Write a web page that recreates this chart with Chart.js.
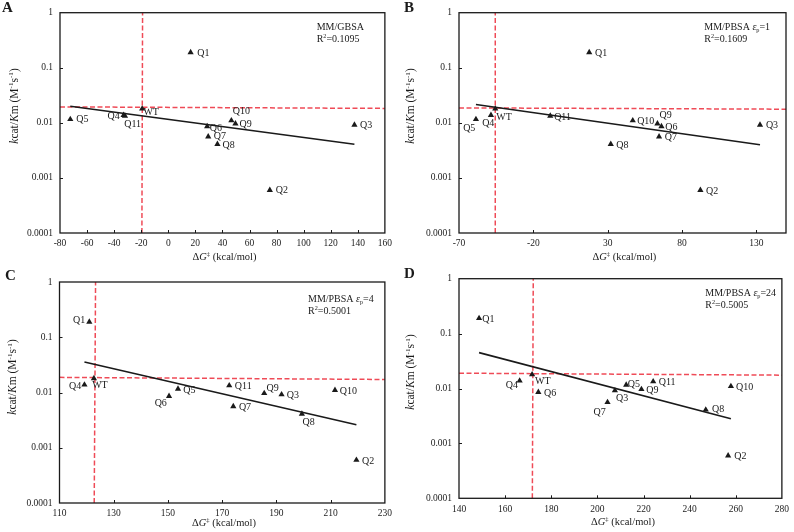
<!DOCTYPE html>
<html>
<head>
<meta charset="utf-8">
<script src="https://cdn.jsdelivr.net/npm/chart.js@4.4.1/dist/chart.umd.min.js"></script>
<style>
  html, body { margin: 0; padding: 0; background: #fff; }
  #wrap { position: relative; width: 794px; height: 532px; background: #fff; overflow: hidden; }
  canvas { position: absolute; }
</style>
</head>
<body>
<div id="wrap">
  <canvas id="cA" width="397" height="266" style="left:0;top:0"></canvas>
  <canvas id="cB" width="397" height="266" style="left:397px;top:0"></canvas>
  <canvas id="cC" width="397" height="266" style="left:0;top:266px"></canvas>
  <canvas id="cD" width="397" height="266" style="left:397px;top:266px"></canvas>
</div>
<script>
// ---------- DATA ----------
const mutants = ['WT','Q1','Q2','Q3','Q4','Q5','Q6','Q7','Q8','Q9','Q10','Q11'];
const kcatKm  = [0.018, 0.19, 0.0006, 0.0092, 0.0138, 0.0116, 0.0086, 0.0056, 0.0041, 0.0097, 0.011, 0.0134];

const dgA = [-19.3, 16.5, 75, 137.5, -33, -72.4, 28.7, 29.5, 36.3, 49.6, 46.6, -32];
const dgB = [-45.6, 17.6, 92.4, 132.5, -48.5, -58.6, 66.2, 64.6, 32.1, 63.5, 46.9, -8.6];
const dgC = [122.7, 121, 219.5, 191.9, 119.2, 153.7, 150.4, 174.1, 199.4, 185.5, 211.6, 172.6];
const dgD = [171.7, 148.7, 256.7, 207.6, 166.3, 212.5, 174.4, 204.4, 247, 219.1, 257.9, 224.2];

// trend line end points [x, kcat/Km]
const trendA = [[-72.4, 0.0200], [137.5, 0.0041]];
const trendB = [[-58.6, 0.0216], [132.5, 0.0040]];
const trendC = [[119.2, 0.0356], [219.5, 0.0026]];
const trendD = [[148.7, 0.0450], [257.9, 0.0028]];

// red dashed reference lines: vertical x (bottom, top), horizontal y (left, right)
const vRefA = [-19.5, -19.0], hRefA = [0.0195, 0.0183];
const vRefB = [-45.6, -45.6], hRefB = [0.0187, 0.0177];
const vRefC = [122.8, 123.3], hRefC = [0.0188, 0.0172];
const vRefD = [171.8, 172.2], hRefD = [0.0190, 0.0175];

// axis ticks
const yTicks  = [0.0001, 0.001, 0.01, 0.1, 1];
const xTicksA = [-80, -60, -40, -20, 0, 20, 40, 60, 80, 100, 120, 140, 160];
const xTicksB = [-70, -20, 30, 80, 130];
const xTicksC = [110, 130, 150, 170, 190, 210, 230];
const xTicksD = [140, 160, 180, 200, 220, 240, 260, 280];

const methods = ['MM/GBSA', 'MM/PBSA εp=1', 'MM/PBSA εp=4', 'MM/PBSA εp=24'];
const r2Values = ['0.1095', '0.1609', '0.5001', '0.5005'];
const panelLetters = ['A', 'B', 'C', 'D'];

// label offsets (px) of each point label centre relative to its point
const offA = [[9,3.7],[12.7,1],[12,0.7],[11.7,0.7],[-10,1.7],[12,0],[8.7,1.7],[11.7,0],[11.3,0.7],[10.3,0.7],[10,-9],[7.7,8.3]];
const offB = [[8.7,8.3],[12,1],[11.7,1],[12,1],[-2.7,8.7],[-6.7,8.7],[10,0.7],[11.7,0.7],[11.7,1],[8.3,-8.7],[13,0.7],[12.3,1.3]];
const offC = [[6,6.7],[-10.3,-1.7],[11.7,1],[11.3,1],[-9.3,2],[11.3,1],[-8.3,7],[11.7,1],[6.7,8],[8.3,-4.7],[13.3,1],[14,0.7]];
const offD = [[10.7,7],[9.3,0.7],[12.3,1],[7.3,8],[-7.7,5],[7.7,-1],[11.7,1],[-8,10],[12.3,0],[11,0.7],[13.7,1],[14,0.7]];

// ---------- RENDER ----------
const FONT = '"Liberation Serif", "Times New Roman", serif';
const RED = '#ef4b57';
const INK = '#1a1a1a';

function rich(ctx, segs, x, y, size, align) {
  const parts = segs.map(s => {
    const fs = (s.sup || s.sub) ? size * 0.62 : size;
    const f = (s.i ? 'italic ' : '') + (s.b ? 'bold ' : '') + fs + 'px ' + FONT;
    ctx.font = f;
    return { s, f, w: ctx.measureText(s.t).width };
  });
  const total = parts.reduce((a, p) => a + p.w, 0);
  let cx = align === 'center' ? x - total / 2 : (align === 'right' ? x - total : x);
  ctx.textAlign = 'left';
  ctx.textBaseline = 'alphabetic';
  for (const p of parts) {
    ctx.font = p.f;
    const dy = p.s.sup ? -size * 0.38 : (p.s.sub ? size * 0.22 : 0);
    ctx.fillText(p.s.t, cx, y + dy);
    cx += p.w;
  }
}

const panels = [
  { id:'cA', x:dgA, trend:trendA, vRef:vRefA, hRef:hRefA, xTicks:xTicksA, xMin:-80, xMax:160, off:offA,
    area:{l:60, r:387, t:12.5, b:233}, letter:[2,12], xTitle:[224.5,259.5], yTitle:[13.5,106], annot:[316.7,29.5,41.5], eps:false },
  { id:'cB', x:dgB, trend:trendB, vRef:vRefB, hRef:hRefB, xTicks:xTicksB, xMin:-70, xMax:150, off:offB,
    area:{l:62, r:389, t:12.5, b:233}, letter:[7,12], xTitle:[227.4,259.5], yTitle:[13,106], annot:[307.3,29.5,41.5], eps:true },
  { id:'cC', x:dgC, trend:trendC, vRef:vRefC, hRef:hRefC, xTicks:xTicksC, xMin:110, xMax:230, off:offC,
    area:{l:59.5, r:387, t:16, b:237}, letter:[5,14], xTitle:[224,260.2], yTitle:[12,111], annot:[308,35.5,47.5], eps:true },
  { id:'cD', x:dgD, trend:trendD, vRef:vRefD, hRef:hRefD, xTicks:xTicksD, xMin:140, xMax:280, off:offD,
    area:{l:62, r:389, t:11.7, b:232.3}, letter:[7,12], xTitle:[226,258.5], yTitle:[13,106], annot:[308.3,29.5,41.5], eps:true }
];

panels.forEach((p, k) => {
  const pts = p.x.map((v, i) => ({ x: v, y: kcatKm[i] }));
  const decor = {
    id: 'decor' + k,
    afterDatasetsDraw(chart) {
      const ctx = chart.ctx;
      const ca = chart.chartArea;
      const xs = chart.scales.x, ys = chart.scales.y;
      ctx.save();
      // frame
      ctx.strokeStyle = INK; ctx.lineWidth = 1.3;
      ctx.strokeRect(ca.left, ca.top, ca.right - ca.left, ca.bottom - ca.top);
      // inner ticks
      ctx.lineWidth = 1;
      p.xTicks.forEach(t => {
        const px = Math.round(xs.getPixelForValue(t)) + 0.5;
        if (px <= ca.left + 1 || px >= ca.right - 1) return;
        ctx.beginPath(); ctx.moveTo(px, ca.bottom); ctx.lineTo(px, ca.bottom - 3); ctx.stroke();
      });
      yTicks.forEach(t => {
        const py = Math.round(ys.getPixelForValue(t)) + 0.5;
        if (py <= ca.top + 1 || py >= ca.bottom - 1) return;
        ctx.beginPath(); ctx.moveTo(ca.left, py); ctx.lineTo(ca.left + 3, py); ctx.stroke();
      });
      // point labels
      ctx.fillStyle = INK;
      ctx.font = '10px ' + FONT;
      ctx.textAlign = 'center'; ctx.textBaseline = 'middle';
      const meta = chart.getDatasetMeta(0);
      meta.data.forEach((el, i) => {
        ctx.fillText(mutants[i], el.x + p.off[i][0], el.y + p.off[i][1]);
      });
      // annotation
      const [ax, ay1, ay2] = p.annot;
      const m = methods[k];
      if (p.eps) {
        const num = m.split('=')[1];
        rich(ctx, [{t:'MM/PBSA '}, {t:'ε', i:true}, {t:'p', sub:true}, {t:'=' + num}], ax, ay1, 10, 'left');
      } else {
        rich(ctx, [{t:m}], ax, ay1, 10, 'left');
      }
      rich(ctx, [{t:'R'}, {t:'2', sup:true}, {t:'=' + r2Values[k]}], ax, ay2, 10, 'left');
      // x title
      rich(ctx, [{t:'Δ'}, {t:'G', i:true}, {t:'‡', sup:true}, {t:' (kcal/mol)'}], p.xTitle[0], p.xTitle[1], 10.5, 'center');
      // y title
      ctx.save();
      ctx.translate(p.yTitle[0], p.yTitle[1]);
      ctx.rotate(-Math.PI / 2);
      rich(ctx, [{t:'k', i:true}, {t:'cat/'}, {t:'K', i:true}, {t:'m (M'}, {t:'-1', sup:true}, {t:'s'}, {t:'-1', sup:true}, {t:')'}], 0, 4, 11.5, 'center');
      ctx.restore();
      // panel letter
      rich(ctx, [{t:panelLetters[k], b:true}], p.letter[0], p.letter[1], 15, 'left');
      ctx.restore();
    }
  };

  new Chart(document.getElementById(p.id), {
    type: 'scatter',
    data: {
      datasets: [
        { data: pts, pointStyle: 'triangle', pointRadius: 3.6, pointHoverRadius: 3.6,
          backgroundColor: INK, borderColor: INK, borderWidth: 0, order: 0 },
        { data: p.trend.map(a => ({ x: a[0], y: a[1] })), showLine: true, pointRadius: 0,
          borderColor: INK, borderWidth: 1.6, order: 1 },
        { data: [{ x: p.xMin, y: p.hRef[0] }, { x: p.xMax, y: p.hRef[1] }], showLine: true, pointRadius: 0,
          borderColor: RED, borderWidth: 1.5, borderDash: [5, 2.5], order: 2 },
        { data: [{ x: p.vRef[0], y: 0.0001 }, { x: p.vRef[1], y: 1 }], showLine: true, pointRadius: 0,
          borderColor: RED, borderWidth: 1.5, borderDash: [5, 2.5], order: 2 }
      ]
    },
    options: {
      responsive: false, animation: false, devicePixelRatio: 1,
      layout: { padding: { left: 0, top: p.area.t, right: 397 - p.area.r, bottom: 0 } },
      plugins: { legend: { display: false }, tooltip: { enabled: false } },
      scales: {
        x: {
          type: 'linear', min: p.xMin, max: p.xMax,
          grid: { display: false, drawTicks: false }, border: { display: false },
          afterBuildTicks: s => { s.ticks = p.xTicks.map(v => ({ value: v })); },
          afterFit: s => { s.height = 266 - p.area.b; },
          ticks: { padding: 5, color: '#222', font: { family: FONT, size: 9.5 }, maxRotation: 0, autoSkip: false,
                   callback: v => String(v) }
        },
        y: {
          type: 'logarithmic', min: 0.0001, max: 1,
          grid: { display: false, drawTicks: false }, border: { display: false },
          afterBuildTicks: s => { s.ticks = yTicks.map(v => ({ value: v })); },
          afterFit: s => { s.width = p.area.l; },
          ticks: { padding: 7, color: '#222', font: { family: FONT, size: 9.5 }, autoSkip: false,
                   callback: v => String(v) }
        }
      }
    },
    plugins: [decor]
  });
});
</script>
</body>
</html>
